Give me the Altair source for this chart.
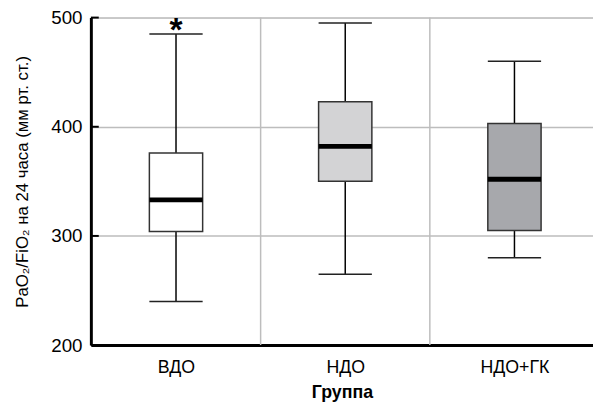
import altair as alt
import pandas as pd

groups = ["ВДО", "НДО", "НДО+ГК"]
positions = [1, 2, 3]
whisker_low = [240, 265, 280]
q1 = [304, 350, 305]
median = [333, 382, 352]
q3 = [376, 423, 403]
whisker_high = [485, 495, 460]
fills = ["#ffffff", "#d3d3d5", "#a7a8ac"]
y_ticks = [200, 300, 400, 500]
group_dividers = [1.5, 2.5]
star_groups = ["ВДО"]

FONT = "Liberation Sans"

df = pd.DataFrame({
    "group": groups, "pos": positions, "lo": whisker_low, "q1": q1,
    "med": median, "q3": q3, "hi": whisker_high,
})
star_df = df[df["group"].isin(star_groups)].copy()
star_df["label"] = "*"
div_df = pd.DataFrame({"d": group_dividers})
tick_df = pd.DataFrame({"t": y_ticks})

label_expr = " : ".join(
    [f"datum.value == {p} ? '{g}'" for p, g in zip(positions, groups)]
) + " : ''"

xscale = alt.Scale(domain=[0.526, 3.435], nice=False, zero=False)
yscale = alt.Scale(domain=[200, 500], nice=False, zero=False)

x_axis = alt.Axis(
    values=positions, labelExpr=label_expr, grid=False, ticks=False,
    title="Группа", titleFont=FONT, titleFontSize=18, titleFontWeight="bold",
    titleColor="black", labelFont=FONT, labelFontSize=18, labelColor="black",
    labelPadding=14, titlePadding=7, domainColor="black", domainWidth=3,
)
y_axis = alt.Axis(
    values=y_ticks, grid=True, gridColor="#bdbdbd", gridWidth=1.5, ticks=False,
    title="PaO₂/FiO₂ на 24 часа (мм рт. ст.)", titleFont=FONT, titleFontSize=17,
    titleFontWeight="normal", titleColor="black", labelFont=FONT,
    labelFontSize=19, labelColor="black", labelPadding=9, titlePadding=20,
    domainColor="black", domainWidth=3,
)

base = alt.Chart(df)

grid_v = alt.Chart(div_df).mark_rule(color="#bdbdbd", strokeWidth=1.5).encode(
    x=alt.X("d:Q", scale=xscale, axis=x_axis),
)

whisk = base.mark_rule(color="black", strokeWidth=1.5).encode(
    x=alt.X("pos:Q", scale=xscale, axis=x_axis),
    y=alt.Y("lo:Q", scale=yscale, axis=y_axis),
    y2="hi:Q",
)
caps_lo = base.mark_tick(color="#222222", size=54, thickness=1.5, opacity=1, orient="horizontal").encode(
    x=alt.X("pos:Q", scale=xscale), y=alt.Y("lo:Q", scale=yscale),
)
caps_hi = base.mark_tick(color="#222222", size=54, thickness=1.5, opacity=1, orient="horizontal").encode(
    x=alt.X("pos:Q", scale=xscale), y=alt.Y("hi:Q", scale=yscale),
)
boxes = base.mark_bar(size=54, stroke="#333333", strokeWidth=1.5, opacity=1).encode(
    x=alt.X("pos:Q", scale=xscale),
    y=alt.Y("q1:Q", scale=yscale),
    y2="q3:Q",
    color=alt.Color("group:N", scale=alt.Scale(domain=groups, range=fills), legend=None),
)
meds = base.mark_tick(color="black", size=54, thickness=5, opacity=1, orient="horizontal").encode(
    x=alt.X("pos:Q", scale=xscale), y=alt.Y("med:Q", scale=yscale),
)
stars = alt.Chart(star_df).mark_text(
    font=FONT, fontSize=34, fontWeight="bold", baseline="alphabetic", dy=7, color="black",
).encode(
    x=alt.X("pos:Q", scale=xscale), y=alt.Y("hi:Q", scale=yscale), text="label:N",
)
tick_marks = alt.Chart(tick_df).mark_rule(color="black", strokeWidth=2).encode(
    y=alt.Y("t:Q", scale=yscale), x=alt.value(0), x2=alt.value(8),
)

chart = alt.layer(
    grid_v, whisk, caps_lo, caps_hi, boxes, meds, stars, tick_marks
).properties(
    width=509, height=332,
    autosize=alt.AutoSizeParams(type="none"),
    padding={"top": 7, "left": 84, "right": 0, "bottom": 58},
).configure_view(stroke=None).configure(background="white")

chart.save("out.html", embed_options={"renderer": "svg", "actions": False})
